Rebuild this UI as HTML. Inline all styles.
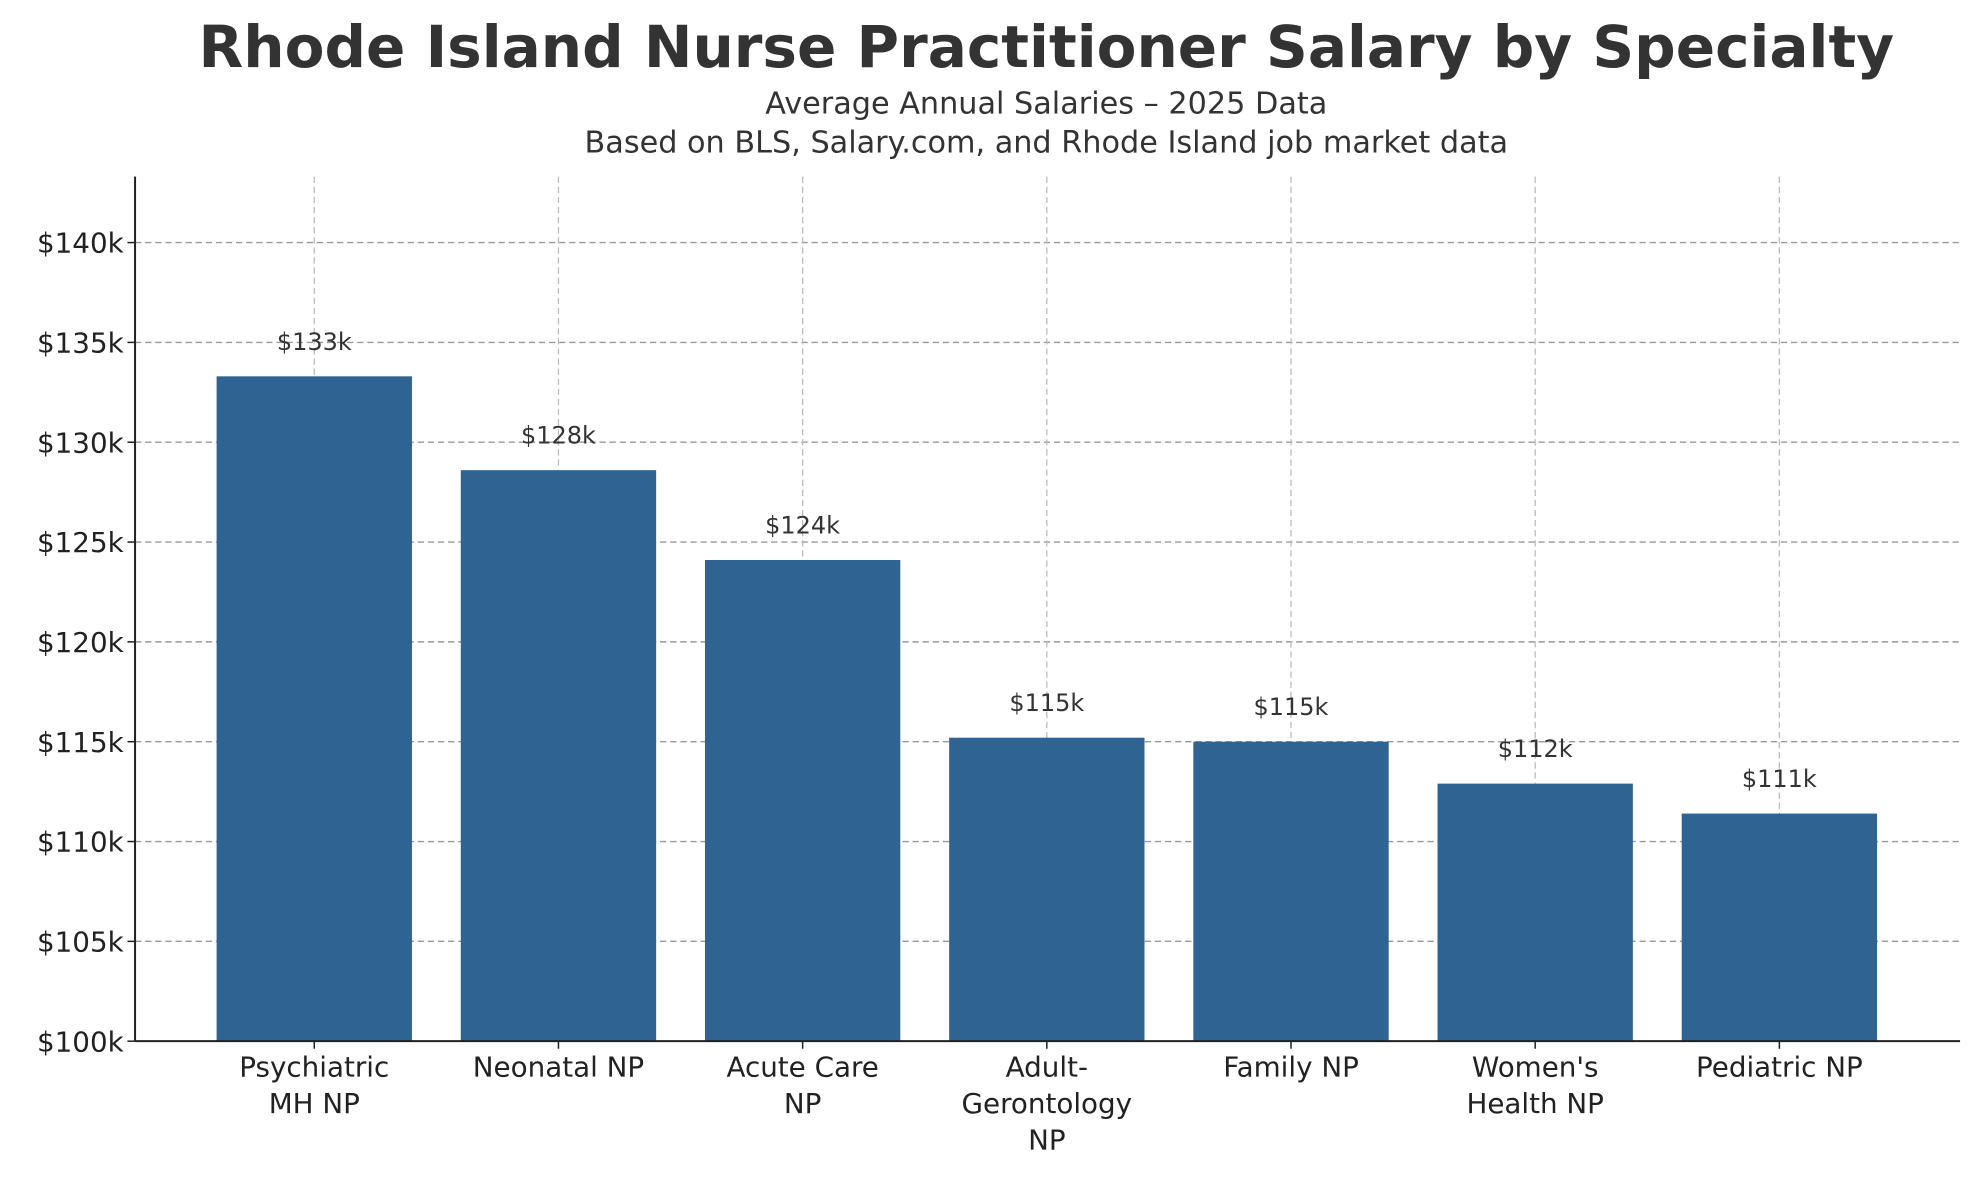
<!DOCTYPE html>
<html><head><meta charset="utf-8"><style>html,body{margin:0;padding:0;background:#fff}svg{display:block}</style></head>
<body>
<svg id="chart" width="1979" height="1180" viewBox="0 0 1568 935" preserveAspectRatio="none" xmlns="http://www.w3.org/2000/svg" font-family="DejaVu Sans, Liberation Sans, sans-serif">
<text x="829" y="53" text-anchor="middle" font-size="46" font-weight="bold" fill="#333">Rhode Island Nurse Practitioner Salary by Specialty</text>
<text x="829" y="90" text-anchor="middle" font-size="24" fill="#333">Average Annual Salaries – 2025 Data</text>
<text x="829" y="121" text-anchor="middle" font-size="24" fill="#333">Based on BLS, Salary.com, and Rhode Island job market data</text>
<g id="grid"></g><g id="bars"></g><g id="axes"></g>
</svg>
<script>
const categories = [["Psychiatric","MH NP"],["Neonatal NP"],["Acute Care","NP"],["Adult-","Gerontology","NP"],["Family NP"],["Women's","Health NP"],["Pediatric NP"]];
const salaries = [133.3, 128.6, 124.1, 115.2, 115.0, 112.9, 111.4];
const valueLabels = ["$133k","$128k","$124k","$115k","$115k","$112k","$111k"];
const yTicks = [100,105,110,115,120,125,130,135,140];
const yTickLabels = ["$100k","$105k","$110k","$115k","$120k","$125k","$130k","$135k","$140k"];

const NS="http://www.w3.org/2000/svg";
const L=107,R=1553,T=140,B=825,yMin=100,yMax=143.3,xMin=-0.734,xMax=6.74;
const y=v=>B-(v-yMin)/(yMax-yMin)*(B-T);
const x=i=>L+(i-xMin)/(xMax-xMin)*(R-L);
const unit=(R-L)/(xMax-xMin);
function mk(tag,attrs,parent){const e=document.createElementNS(NS,tag);for(const k in attrs)e.setAttribute(k,attrs[k]);parent.appendChild(e);return e;}
const grid=document.getElementById('grid'),bars=document.getElementById('bars'),axes=document.getElementById('axes');

yTicks.forEach((t,i)=>{
  const g=mk('line',{x1:L,x2:R,y1:y(t),y2:y(t),stroke:'#999','stroke-dasharray':'5,3','stroke-width':1.1},grid);
  
  
  const tk=mk('line',{x1:L-6,x2:L,y1:y(t),y2:y(t),stroke:'#222','stroke-width':1.2},axes);
  
  
  const tl=mk('text',{x:L-9,y:y(t)+8,'text-anchor':'end','font-size':22,fill:'#222'},axes);
  tl.textContent=yTickLabels[i];
  
  
});
categories.forEach((c,i)=>{
  const g=mk('line',{x1:x(i),x2:x(i),y1:T,y2:B,stroke:'#bbb','stroke-dasharray':'5,3','stroke-width':1},grid);
  
  
  const w=0.8*unit;
  const b=mk('rect',{x:x(i)-w/2,y:y(salaries[i]),width:w,height:B-y(salaries[i]),fill:'#2f6391'},bars);
  
  
  const vl=mk('text',{x:x(i),y:y(salaries[i])-21,'text-anchor':'middle','font-size':19,fill:'#333'},bars);
  vl.textContent=valueLabels[i];
  
  
  const tk=mk('line',{x1:x(i),x2:x(i),y1:B,y2:B+6,stroke:'#222','stroke-width':1.2},axes);
  
  
  c.forEach((ln,j)=>{
    const t=mk('text',{x:x(i),y:B+28+j*29,'text-anchor':'middle','font-size':22,fill:'#222'},axes);
    t.textContent=ln;
    
    
  });
});
const ya=mk('line',{x1:L,x2:L,y1:T,y2:B,stroke:'#222','stroke-width':1.6},axes);


const xa=mk('line',{x1:L,x2:R,y1:B,y2:B,stroke:'#222','stroke-width':1.6},axes);


</script>
</body></html>
